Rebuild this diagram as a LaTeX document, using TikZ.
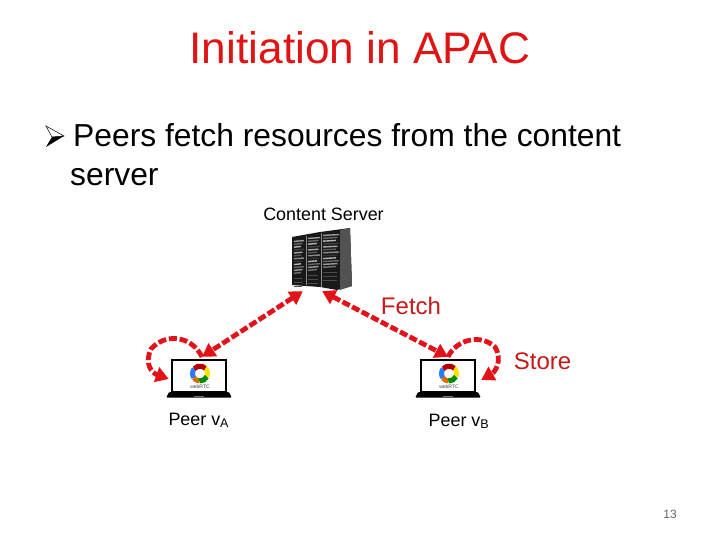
\documentclass[tikz,border=0pt]{standalone}
\usepackage{fontspec}
\setmainfont{Liberation Sans}
\usetikzlibrary{arrows.meta,calc}
\definecolor{tred}{RGB}{225,20,20}
\definecolor{flow}{RGB}{226,18,24}
\definecolor{lbl}{RGB}{200,25,25}
\tikzset{
  flowline/.style={draw=flow,line width=4.8pt,dash pattern=on 8pt off 2.8pt,
    arrows={-{Triangle[length=13pt,width=15pt]}}},
  bothflow/.style={flowline,arrows={{Triangle[length=13pt,width=15pt]}-{Triangle[length=13pt,width=15pt]}}},
  caption/.style={inner sep=0pt,font=\fontsize{17.9}{20}\selectfont,text=black},
  redlabel/.style={inner sep=0pt,font=\fontsize{24}{28}\selectfont,text=lbl},
  laptopbox/.style={inner sep=0pt,minimum width=56pt,minimum height=34pt},
  serverbox/.style={inner sep=0pt,minimum width=61pt,minimum height=61pt},
  petal/.style={line width=5pt}
}
\newcommand{\petalarc}[3]{\draw[petal,color=#1] (#2:7.5) arc[start angle=#2,end angle=#3,radius=7.5];}
\newcommand{\wheel}[2]{%
  \begin{scope}[shift={(#1,#2)},y=1pt,x=1pt]
    \petalarc{blue!60!cyan!85!white}{140}{215}
    \petalarc{orange!85!black}{215}{265}
    \petalarc{yellow!85!orange}{-25}{50}
    \petalarc{green!55!black}{265}{335}
    \petalarc{red!70!black}{45}{140}
  \end{scope}
  \node[inner sep=0pt,font=\fontsize{5}{5}\selectfont,text=black!75] at (#1,{#2+13}) {webRTC};}
\newcommand{\laptop}[1]{%
  \draw[black,line width=2pt,fill=white] ($(#1.north west)+(1,1)$) rectangle ($(#1.south east)+(-1,-1)$);
  \fill[black,rounded corners=1pt] ($(#1.south west)+(-2,-1)$) -- ($(#1.south east)+(2,-1)$) -- ($(#1.south east)+(4.5,4.5)$) -- ($(#1.south west)+(-4.5,4.5)$) -- cycle;
  \fill[black!55] ($(#1.south)+(-5,2.5)$) rectangle ($(#1.south)+(5,3.5)$);
}
\begin{document}
\begin{tikzpicture}[x=1pt,y=-1pt]
\useasboundingbox (0,0) rectangle (720,540);
\fill[white] (0,0) rectangle (720,540);
\node[inner sep=0pt,font=\fontsize{44.2}{50}\selectfont,text=tred] (title) at (360,48) {Initiation in APAC};
% bullet
\filldraw[black,line width=0.5pt,fill=white] (46,126) -- (64,136) -- (52,137) -- cycle;
\fill[black] (46,147) -- (64,136) -- (52,137) -- cycle;
\node[inner sep=0pt,anchor=base west,font=\fontsize{31.8}{36}\selectfont] (line1) at (73,147) {Peers fetch resources from the content};
\node[inner sep=0pt,anchor=base west,font=\fontsize{31.8}{36}\selectfont] (line2) at (70,186) {server};
\node[caption] (cslabel) at (323.5,214.5) {Content Server};
% server
\node[serverbox] (server) at (321.5,258.5) {};
\fill[black!90] (292,237) -- (320,232) -- (350,228) -- (352,286) -- (337,290) -- (320,287) -- (292,285) -- cycle;
\fill[black!68] (340,230) -- (350,228) -- (352,286) -- (340,290) -- cycle;
\draw[black!45,line width=0.8pt] (306,236) -- (306,285);
\draw[black!45,line width=0.8pt] (321,233) -- (321,287);
\foreach \xa/\xb/\ya in {294/304/241,308/320/238,323/339/235}{
  \foreach \k/\g in {0/40,1/60,2/30,3/75,4/35,5/65,6/45,7/80,8/30,9/60,10/40,11/55}{
    \draw[black!\g,line width=1.4pt] ({\xa},{\ya+\k*2.9+0.4}) -- ({\xb-mod(\k,3)*1.5},{\ya+\k*2.9-0.4});
  }
  \foreach \k in {0,1,2}{
    \draw[black!70,line width=0.8pt] ({\xa},{\ya+37+\k*4}) -- ({\xb-2},{\ya+37+\k*4});
  }
}
% laptops
\node[laptopbox] (peerA) at (199,376) {};
\laptop{peerA}
\wheel{200}{373.5}
\node[laptopbox] (peerB) at (448,376) {};
\laptop{peerB}
\wheel{449}{373.5}
\node[caption,anchor=base] (alabel) at (198.8,425) {Peer v\textsubscript{A}};
\node[caption,anchor=base] (blabel) at (459,426) {Peer v\textsubscript{B}};
\node[redlabel] (fetch) at (411,305.5) {Fetch};
\node[redlabel] (store) at (542.5,361.5) {Store};
\node[inner sep=0pt,font=\fontsize{12}{14}\selectfont,text=black!60] (page) at (670,514) {13};
% connectors
\coordinate (sA) at ($(server.south west)+(12,2)$);
\coordinate (sB) at ($(server.south east)+(-30,2)$);
\coordinate (aTop) at ($(peerA.north)+(3,-2)$);
\coordinate (bTop) at ($(peerB.north)+(0,-2)$);
\coordinate (aSide) at ($(peerA.west)+(-2,3)$);
\coordinate (bSide) at ($(peerB.east)+(5,4)$);
\draw[bothflow] (sA) -- (aTop);
\draw[bothflow] (sB) -- (bTop);
\draw[flowline] (aTop) .. controls (191,335) and (165,333) .. (151,349) .. controls (144,364) and (152,373) .. (aSide);
\draw[flowline] (bTop) .. controls (456,340) and (480,333) .. (495,347) .. controls (503,360) and (495,372) .. (bSide);
\end{tikzpicture}
\end{document}
